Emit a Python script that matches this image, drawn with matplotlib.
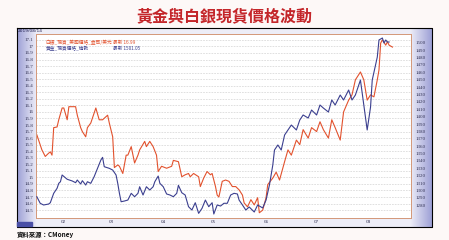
import numpy as np
import matplotlib
matplotlib.use("Agg")
import matplotlib.pyplot as plt
import matplotlib.dates as mdates
from matplotlib.ticker import FixedLocator, FuncFormatter

plt.rcParams['font.family'] = ['Noto Sans CJK TC', 'DejaVu Sans']

# day offsets from 2019-01-16 and values
silver_day = [0, 3, 5, 7, 8, 9, 10, 12, 13, 15, 16, 18, 19, 23, 24, 26, 27, 29, 30, 32,
              35, 37, 39, 42, 43, 45, 46, 48, 49, 51, 53, 54, 56, 58, 60, 61, 64, 65, 67, 69,
              71, 72, 74, 77, 80, 81, 84, 86, 88, 90, 91, 93, 96, 97, 99, 101, 103, 104, 106, 107,
              108, 110, 112, 114, 116, 118, 120, 122, 123, 125, 127, 129, 131, 132, 134, 136, 137, 140, 142, 144,
              147, 149, 151, 154, 156, 158, 161, 163, 166, 168, 170, 173, 175, 177, 180, 182, 185, 187, 189, 192,
              194, 196, 198, 200, 202, 203, 204, 205, 207, 208, 209, 211]
silver = [15.65, 15.42, 15.32, 15.37, 15.39, 15.34, 15.76, 15.77, 15.88, 16.06, 16.06, 15.88, 16.08, 16.08, 15.95, 15.76, 15.70, 15.62, 15.76, 15.83,
          16.06, 15.88, 15.88, 15.95, 15.83, 15.62, 15.15, 15.19, 15.17, 15.06, 15.34, 15.34, 15.47, 15.22, 15.34, 15.42, 15.55, 15.47, 15.55, 15.47,
          15.34, 15.09, 15.17, 15.14, 15.17, 15.26, 15.24, 15.01, 15.04, 15.06, 15.01, 15.06, 15.01, 14.86, 14.99, 15.09, 15.04, 15.06, 14.86, 14.73,
          14.70, 14.94, 14.96, 14.94, 14.86, 14.86, 14.81, 14.73, 14.61, 14.55, 14.66, 14.58, 14.69, 14.46, 14.50, 14.69, 14.89, 14.99, 15.08, 14.96,
          15.24, 15.42, 15.34, 15.57, 15.50, 15.73, 15.60, 15.76, 15.70, 15.85, 15.73, 15.60, 15.88, 15.76, 15.57, 16.00, 16.18, 16.26, 16.49, 16.61,
          16.49, 16.18, 16.26, 16.23, 16.49, 16.64, 17.05, 17.10, 17.02, 17.07, 17.02, 16.99]

gold_day = [0, 2, 4, 7, 8, 10, 12, 13, 14, 15, 18, 21, 23, 24, 26, 27, 29, 30, 32, 34,
            36, 38, 39, 40, 43, 45, 47, 48, 49, 50, 52, 54, 56, 58, 60, 61, 63, 65, 67, 69,
            70, 72, 73, 75, 77, 79, 81, 83, 84, 86, 88, 90, 92, 94, 96, 98, 100, 102, 104, 105,
            107, 109, 111, 113, 115, 117, 119, 120, 122, 124, 126, 129, 131, 134, 136, 138, 140, 141, 143, 145,
            147, 149, 151, 154, 156, 158, 161, 163, 166, 168, 170, 173, 175, 177, 180, 182, 185, 187, 189, 192,
            194, 196, 198, 199, 202, 203, 205, 206, 207, 208, 209]
gold = [1291.6, 1282.7, 1280.4, 1281.7, 1283.5, 1296.2, 1303.0, 1309.7, 1311.9, 1321.0, 1315.2, 1312.9, 1310.6, 1314.2, 1308.8, 1313.3, 1307.4, 1311.9, 1309.7, 1318.7,
        1330.0, 1341.3, 1344.9, 1332.2, 1330.0, 1327.7, 1321.0, 1309.7, 1296.2, 1284.8, 1285.8, 1287.1, 1296.2, 1291.6, 1296.2, 1305.1, 1293.9, 1305.1, 1300.7, 1305.1,
        1311.9, 1319.6, 1309.7, 1305.1, 1295.3, 1293.9, 1291.6, 1296.2, 1307.0, 1297.0, 1293.9, 1278.1, 1273.6, 1283.5, 1269.1, 1275.9, 1287.1, 1278.1, 1283.5, 1268.2,
        1280.4, 1279.0, 1282.7, 1282.7, 1293.9, 1296.2, 1295.3, 1287.1, 1280.4, 1273.6, 1277.7, 1270.9, 1280.4, 1276.4, 1287.1, 1307.4, 1334.5, 1354.8, 1361.6, 1354.8,
        1375.1, 1381.9, 1388.6, 1381.9, 1395.4, 1402.2, 1398.1, 1408.9, 1402.2, 1415.7, 1411.6, 1406.2, 1422.5, 1415.7, 1429.2, 1422.5, 1436.0, 1422.5, 1429.2, 1449.5,
        1415.7, 1381.9, 1413.0, 1449.5, 1480.6, 1503.7, 1506.4, 1499.6, 1503.7, 1500.9, 1501.0]

month_ticks = ['2019-02-01', '2019-03-01', '2019-04-01', '2019-05-01', '2019-06-01', '2019-07-01', '2019-08-01']
month_labels = ['02', '03', '04', '05', '06', '07', '08']
silver_ticks = np.round(np.arange(14.5, 17.15, 0.1), 1)
gold_ticks = np.arange(1280, 1501, 10)

title = '黃金與白銀現貨價格波動'
silver_name = '白銀_現貨_美國價格_盎司/美元'
gold_name = '黃金_現貨價格_倫敦'
silver_last = '最新 16.99'
gold_last = '最新 1501.05'
date_stamp = '2019/08/14'
source = '資料來源：CMoney'

W, H = 449, 240
start = np.datetime64('2019-01-16')
silver_dates = start + np.array(silver_day)
gold_dates = start + np.array(gold_day)

fig = plt.figure(figsize=(W / 100, H / 100), dpi=100)
fig.patch.set_facecolor('#fdf8f7')

# background / frame in pixel coordinates
bg = fig.add_axes([0, 0, 1, 1])
bg.set_xlim(0, W)
bg.set_ylim(H, 0)
bg.axis('off')

c_edge = np.array([0.62, 0.63, 0.84])
c_in = np.array([0.93, 0.93, 0.97])
xs = np.linspace(17, 432, 400)
t = np.clip(np.minimum((xs - 17) / 19, (432 - xs) / 21), 0, 1)[:, None]
grad = (c_edge * (1 - t) + c_in * t)[None, :, :]
bg.imshow(grad, extent=[17, 432, 227, 28], aspect='auto', zorder=0)
bg.plot([17, 432, 432, 17, 17], [28, 28, 227, 227, 28], color='black', lw=0.8, zorder=1)
bg.add_patch(plt.Rectangle((17, 222), 15, 4, color='#4a4fa6', zorder=2))

bg.text(W / 2, 16, title, ha='center', va='center', fontsize=11.5, fontweight='bold',
        color='#c4262a')
bg.text(18, 30.5, date_stamp, ha='left', va='center', fontsize=3.2, color='#202050',
        family=['DejaVu Sans'])
bg.text(17, 234, source, ha='left', va='center', fontsize=4.6, fontweight='bold', color='#111111')

# plot area
x0, x1, y0, y1 = 36, 411, 34, 218
ax = fig.add_axes([x0 / W, 1 - y1 / H, (x1 - x0) / W, (y1 - y0) / H])
ax.set_facecolor('white')
ax2 = ax.twinx()

ax.plot(silver_dates, silver, color='#e2522e', lw=0.8, zorder=3)
ax2.plot(gold_dates, gold, color='#3b3f8f', lw=0.8, zorder=3)

ax.set_xlim(np.datetime64('2019-01-15T12'), np.datetime64('2019-08-26'))
ax.set_ylim(14.38, 17.19)
ax2.set_ylim(1262.8, 1511.8)

ax.yaxis.set_major_locator(FixedLocator(silver_ticks))
ax.yaxis.set_major_formatter(FuncFormatter(lambda v, p: '%g' % round(v, 1)))
ax2.yaxis.set_major_locator(FixedLocator(gold_ticks))
ax2.yaxis.set_major_formatter(FuncFormatter(lambda v, p: '%d' % v))
ax.set_xticks([mdates.date2num(np.datetime64(d)) for d in month_ticks])
ax.set_xticklabels(month_labels)

ax.grid(axis='y', color='#c8c8c8', lw=0.4, ls=(0, (3, 2)))
ax.tick_params(axis='y', length=0, pad=2, labelsize=3.6, labelcolor='#333355')
ax2.tick_params(axis='y', length=0, pad=3, labelsize=3.6, labelcolor='#333355')
ax.tick_params(axis='x', length=0, pad=1.5, labelsize=3.6, labelcolor='#333355')
for lab in ax.get_yticklabels() + ax2.get_yticklabels() + ax.get_xticklabels():
    lab.set_family('Liberation Serif')

for a in (ax, ax2):
    for side in a.spines.values():
        side.set_color('#d49a7c')
        side.set_linewidth(0.7)
ax.spines['bottom'].set_linestyle((0, (1, 1)))
ax2.spines['bottom'].set_linestyle((0, (1, 1)))

ax.text(0.025, 0.955, silver_name, transform=ax.transAxes, fontsize=3.4, color='#e2522e',
        ha='left', va='center')
ax.text(0.205, 0.955, silver_last, transform=ax.transAxes, fontsize=3.4, color='#e2522e',
        ha='left', va='center')
ax.text(0.025, 0.92, gold_name, transform=ax.transAxes, fontsize=3.4, color='#3b3f8f',
        ha='left', va='center')
ax.text(0.205, 0.92, gold_last, transform=ax.transAxes, fontsize=3.4, color='#3b3f8f',
        ha='left', va='center')

fig.savefig('out.png', dpi=100, facecolor=fig.get_facecolor())
